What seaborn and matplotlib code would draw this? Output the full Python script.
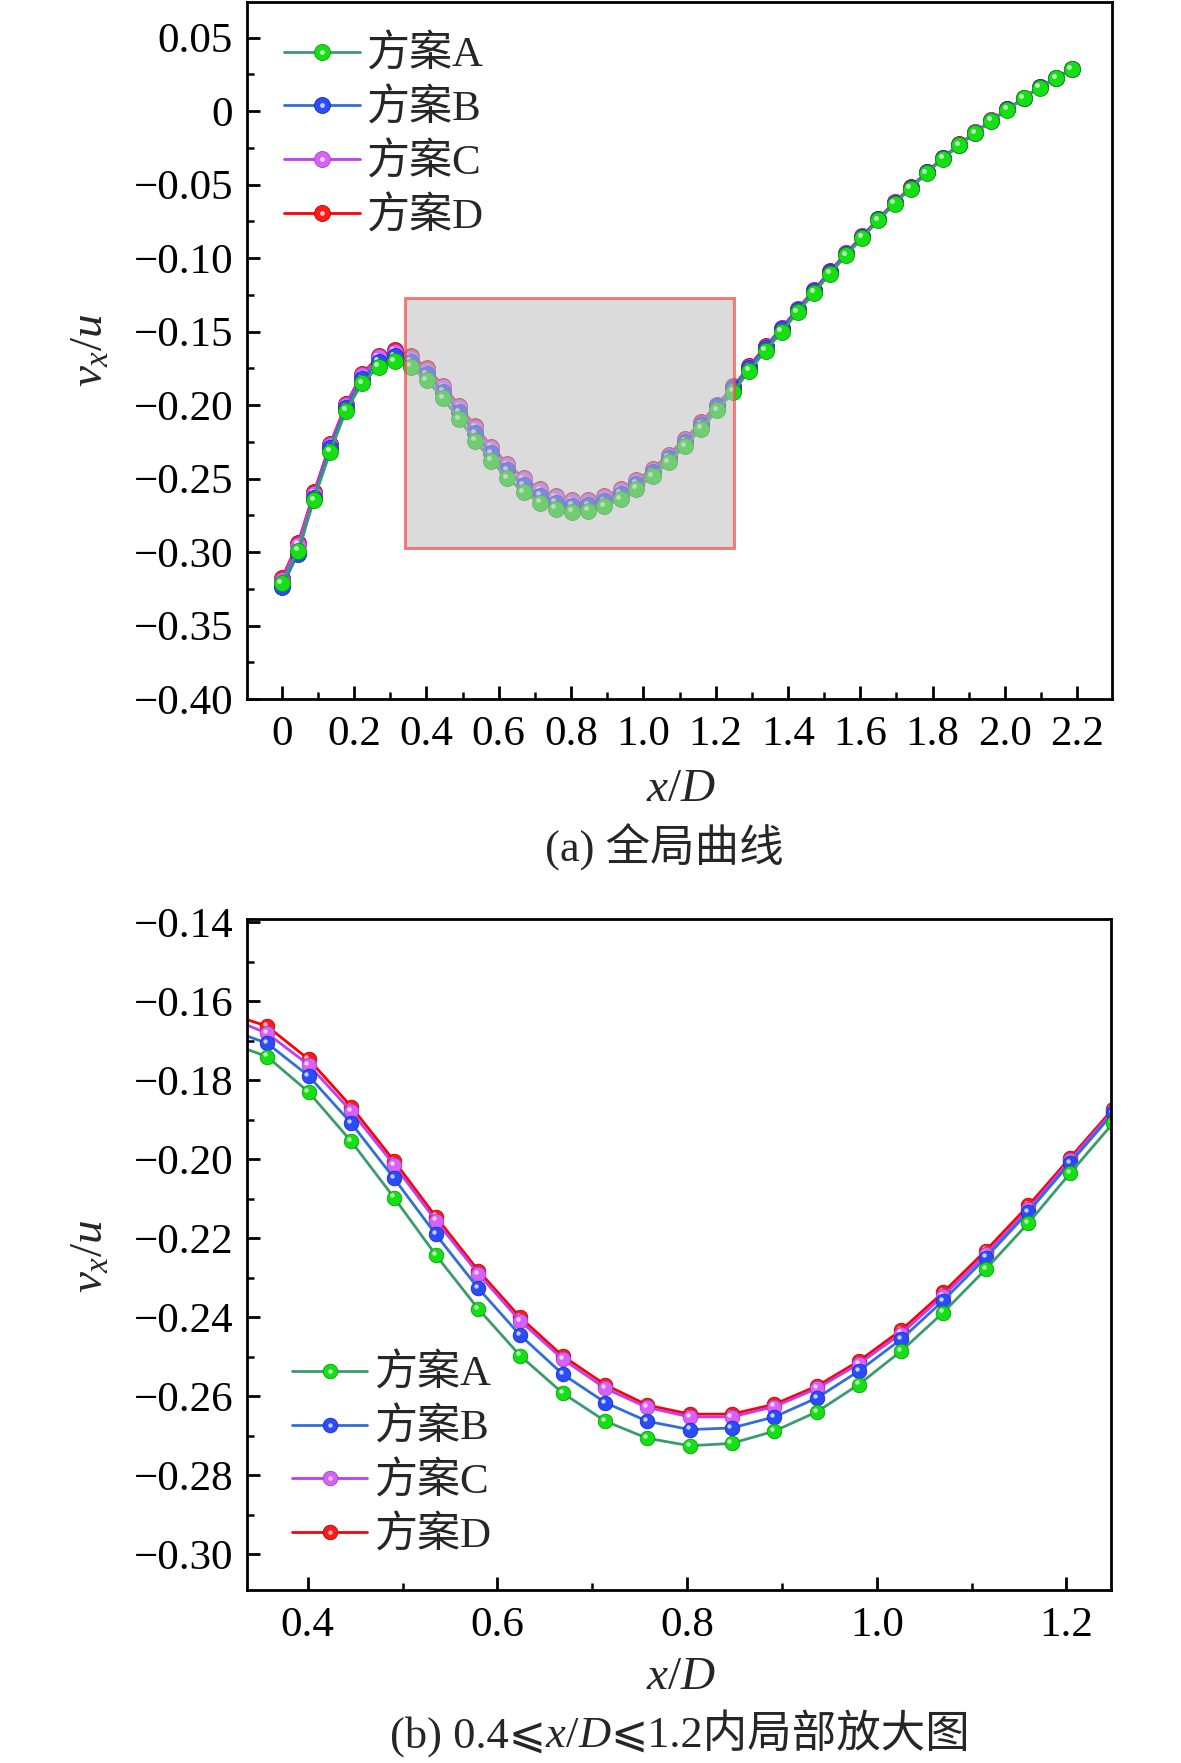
import matplotlib
matplotlib.use('Agg')
import numpy as np
import pandas as pd
import matplotlib.pyplot as plt
import matplotlib.transforms as mtransforms
from matplotlib.ticker import MultipleLocator, FuncFormatter
from matplotlib.patches import Rectangle
from matplotlib.legend_handler import HandlerTuple
from matplotlib.offsetbox import TextArea, HPacker, AnnotationBbox
import seaborn as sns

# x/D sample positions (50 points)
x_d = [0.000, 0.045, 0.089, 0.134, 0.178, 0.223, 0.268, 0.312, 0.357, 0.401,
       0.446, 0.491, 0.535, 0.580, 0.624, 0.669, 0.714, 0.758, 0.803, 0.847,
       0.892, 0.937, 0.981, 1.026, 1.070, 1.115, 1.160, 1.204, 1.249, 1.293,
       1.338, 1.383, 1.427, 1.472, 1.516, 1.561, 1.606, 1.650, 1.695, 1.739,
       1.784, 1.829, 1.873, 1.918, 1.962, 2.007, 2.052, 2.096, 2.141, 2.185]

scheme_a = [-0.3214, -0.2991, -0.2646, -0.2317, -0.2037, -0.1849, -0.1738, -0.1701, -0.1740, -0.1830,
            -0.1955, -0.2097, -0.2242, -0.2379, -0.2497, -0.2592, -0.2663, -0.2706, -0.2725, -0.2719,
            -0.2688, -0.2639, -0.2570, -0.2485, -0.2388, -0.2278, -0.2161, -0.2035, -0.1909, -0.1765,
            -0.1629, -0.1500, -0.1367, -0.1236, -0.1106, -0.0981, -0.0861, -0.0743, -0.0629, -0.0527,
            -0.0420, -0.0323, -0.0232, -0.0148, -0.0066, 0.0011, 0.0087, 0.0161, 0.0223, 0.0286]
scheme_b = [-0.3241, -0.3010, -0.2630, -0.2295, -0.2018, -0.1822, -0.1706, -0.1668, -0.1706, -0.1789,
            -0.1909, -0.2048, -0.2190, -0.2327, -0.2445, -0.2544, -0.2616, -0.2663, -0.2684, -0.2680,
            -0.2652, -0.2604, -0.2536, -0.2455, -0.2358, -0.2249, -0.2133, -0.2009, -0.1884, -0.1745,
            -0.1611, -0.1484, -0.1353, -0.1224, -0.1095, -0.0972, -0.0853, -0.0736, -0.0623, -0.0522,
            -0.0416, -0.0320, -0.0229, -0.0146, -0.0064, 0.0012, 0.0088, 0.0162, 0.0224, 0.0287]
scheme_c = [-0.3190, -0.2950, -0.2603, -0.2272, -0.2000, -0.1795, -0.1676, -0.1637, -0.1681, -0.1761,
            -0.1879, -0.2014, -0.2155, -0.2290, -0.2409, -0.2506, -0.2580, -0.2628, -0.2652, -0.2652,
            -0.2626, -0.2580, -0.2518, -0.2441, -0.2346, -0.2240, -0.2126, -0.2002, -0.1878, -0.1738,
            -0.1604, -0.1477, -0.1347, -0.1219, -0.1091, -0.0968, -0.0850, -0.0733, -0.0620, -0.0520,
            -0.0414, -0.0318, -0.0228, -0.0145, -0.0063, 0.0013, 0.0089, 0.0163, 0.0225, 0.0288]
scheme_d = [-0.3180, -0.2939, -0.2594, -0.2264, -0.1992, -0.1787, -0.1667, -0.1628, -0.1663, -0.1747,
            -0.1867, -0.2004, -0.2145, -0.2282, -0.2400, -0.2498, -0.2571, -0.2622, -0.2645, -0.2645,
            -0.2620, -0.2574, -0.2511, -0.2432, -0.2337, -0.2231, -0.2117, -0.1996, -0.1873, -0.1733,
            -0.1600, -0.1473, -0.1344, -0.1216, -0.1088, -0.0965, -0.0847, -0.0731, -0.0618, -0.0518,
            -0.0412, -0.0316, -0.0226, -0.0144, -0.0062, 0.0014, 0.0090, 0.0164, 0.0226, 0.0289]

labels = ['方案A', '方案B', '方案C', '方案D']
series = [scheme_a, scheme_b, scheme_c, scheme_d]
line_colors = ['#3a9c6c', '#2f6fd6', '#c33cf0', '#ff0000']
ball_colors = ['#14e014', '#2a4cff', '#d860ff', '#ff1a1a']
edge_colors = ['#0d9a0d', '#1a2fb0', '#a040c0', '#c00000']

# zoom window drawn on the global plot
zoom_x = (0.34, 1.25)
zoom_y = (-0.297, -0.127)

sns.set_theme(style='ticks')
plt.rcParams['font.family'] = ['Liberation Serif', 'DejaVu Sans', 'Noto Sans CJK SC']
plt.rcParams['mathtext.fontset'] = 'custom'
plt.rcParams['mathtext.it'] = 'Liberation Serif:italic'
plt.rcParams['mathtext.rm'] = 'Liberation Serif'
plt.rcParams['axes.unicode_minus'] = True

FS = 31       # ticks / legend
FS_LAB = 34   # axis labels
FS_CAP = 32   # captions
W, H = 1181, 1763
fig = plt.figure(figsize=(W / 100, H / 100), dpi=100)
fig.patch.set_facecolor('white')

ax1 = fig.add_axes([247 / W, 1 - 699 / H, 865 / W, 697 / H])
ax2 = fig.add_axes([247 / W, 1 - 1590 / H, 864 / W, 671 / H])


def fmt(dec):
    def f(v, pos):
        if abs(v) < 1e-9:
            return '0'
        return f'{v:.{dec}f}'.replace('-', '\u2212')
    return FuncFormatter(f)


def draw_series(ax, ms, lw):
    handles = {}
    hl_tr = mtransforms.offset_copy(ax.transData, fig=fig, x=-ms * 0.15, y=ms * 0.15, units='points')
    # D drawn first, A on top
    for k in [3, 2, 1, 0]:
        sns.lineplot(x=x_d, y=series[k], ax=ax, color=line_colors[k], linewidth=lw,
                     marker='o', markersize=ms, markerfacecolor=ball_colors[k],
                     markeredgecolor=edge_colors[k], markeredgewidth=0.6,
                     sort=False, estimator=None, legend=False)
        ln = ax.get_lines()[-1]
        hl, = ax.plot(x_d, series[k], linestyle='none', marker='o', markersize=ms * 0.3,
                      markerfacecolor='white', markeredgecolor='none', alpha=0.75,
                      transform=hl_tr)
        handles[k] = (ln, hl)
    return [handles[k] for k in range(4)]


def style_axis(ax):
    for sp in ax.spines.values():
        sp.set_linewidth(2.0)
        sp.set_color('black')
        sp.set_visible(True)
    ax.tick_params(which='both', direction='in', top=False, right=False,
                   colors='black', labelsize=FS)
    ax.tick_params(which='major', length=9.6, width=2.0)
    ax.tick_params(which='minor', length=4.8, width=1.8)
    ax.tick_params(axis='y', pad=10)
    ax.tick_params(axis='x', pad=12)
    ax.set_xlabel('')
    ax.set_ylabel('')
    ax.set_facecolor('white')


leg_kw = dict(handler_map={tuple: HandlerTuple(ndivide=1)}, frameon=False, fontsize=FS,
              handlelength=1.75, handletextpad=0.15, labelspacing=0.32,
              borderpad=0, borderaxespad=0)

# (a) global curve
h1 = draw_series(ax1, 11.5, 2.0)
ax1.set_xlim(-0.096, 2.296)
ax1.set_ylim(-0.40, 0.0743)
ax1.xaxis.set_major_locator(MultipleLocator(0.2))
ax1.xaxis.set_minor_locator(MultipleLocator(0.1))
ax1.yaxis.set_major_locator(MultipleLocator(0.05))
ax1.yaxis.set_minor_locator(MultipleLocator(0.025))
ax1.xaxis.set_major_formatter(fmt(1))
ax1.yaxis.set_major_formatter(fmt(2))
style_axis(ax1)
ax1.add_patch(Rectangle((zoom_x[0], zoom_y[0]), zoom_x[1] - zoom_x[0], zoom_y[1] - zoom_y[0],
                        facecolor=(0.75, 0.75, 0.75, 0.55), edgecolor=(0.93, 0.3, 0.3, 0.7),
                        linewidth=2.2, zorder=5))
ax1.legend(h1, labels, loc='upper left', bbox_to_anchor=(0.043, 0.952), **leg_kw)

# (b) zoomed region
h2 = draw_series(ax2, 10.5, 2.0)
ax2.set_xlim(0.336, 1.247)
ax2.set_ylim(-0.309, -0.1392)
ax2.xaxis.set_major_locator(MultipleLocator(0.2))
ax2.xaxis.set_minor_locator(MultipleLocator(0.1))
ax2.yaxis.set_major_locator(MultipleLocator(0.02))
ax2.yaxis.set_minor_locator(MultipleLocator(0.01))
ax2.xaxis.set_major_formatter(fmt(1))
ax2.yaxis.set_major_formatter(fmt(2))
style_axis(ax2)
ax2.legend(h2, labels, loc='lower left', bbox_to_anchor=(0.052, 0.05), **leg_kw)

# axis labels and captions
fig.text(91 / W, 1 - 350 / H, r'$v_x/u$', rotation=90, ha='center', va='center', fontsize=FS_LAB)
fig.text(91 / W, 1 - 1256 / H, r'$v_x/u$', rotation=90, ha='center', va='center', fontsize=FS_LAB)
fig.text(681 / W, 1 - 790 / H, r'$x/D$', ha='center', va='center', fontsize=FS_LAB)
fig.text(681 / W, 1 - 1678 / H, r'$x/D$', ha='center', va='center', fontsize=FS_LAB)
fig.text(664 / W, 1 - 847 / H, '(a) 全局曲线', ha='center', va='center', fontsize=FS_CAP)

pieces = [('(b) 0.4\u2a7d', 'normal'), ('x', 'italic'), ('/', 'normal'),
          ('D', 'italic'), ('\u2a7d1.2内局部放大图', 'normal')]
box = HPacker(children=[TextArea(s, textprops=dict(fontsize=FS_CAP, style=st)) for s, st in pieces],
              align='baseline', pad=0, sep=0)
ab = AnnotationBbox(box, (680 / W, 1 - 1735 / H), xycoords='figure fraction',
                    frameon=False, box_alignment=(0.5, 0.5), annotation_clip=False)
ax2.add_artist(ab)

fig.savefig('out.png', dpi=100, facecolor='white')
